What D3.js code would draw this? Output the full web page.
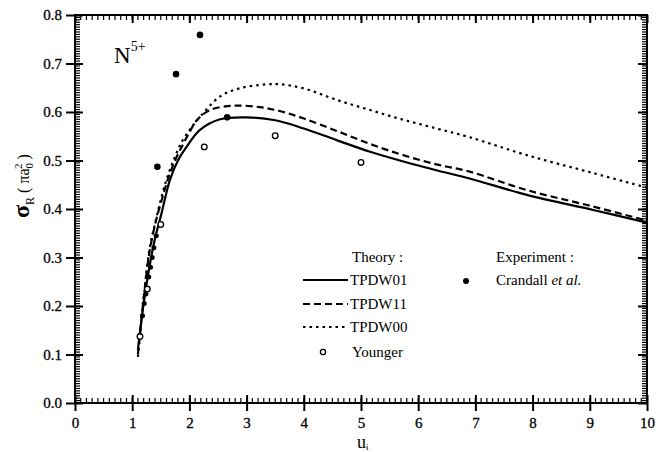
<!DOCTYPE html>
<html>
<head>
<meta charset="utf-8">
<script src="https://cdn.jsdelivr.net/npm/d3@7"></script>
<style>
  html, body { margin: 0; padding: 0; background: #fff; }
  svg { display: block; }
</style>
</head>
<body>
<svg id="chart" width="672" height="452" font-family="'Liberation Serif', 'Times New Roman', Times, serif"></svg>
<script>
// Radiative recombination cross section for N5+ versus impact energy u_i
const SERIF = "'Liberation Serif', 'Times New Roman', Times, serif";
const xTicks = [0, 1, 2, 3, 4, 5, 6, 7, 8, 9, 10];
const yTicks = [0.0, 0.1, 0.2, 0.3, 0.4, 0.5, 0.6, 0.7, 0.8];

// Theory curves: [u, sigma]
const tpdw01 = [
  [1.10, 0.11], [1.15, 0.16], [1.20, 0.205], [1.30, 0.28], [1.40, 0.34],
  [1.50, 0.385], [1.66, 0.46], [1.80, 0.50], [1.95, 0.528], [2.185, 0.563],
  [2.535, 0.585], [3.00, 0.589], [3.50, 0.583], [4.00, 0.566], [4.575, 0.542],
  [5.16, 0.518], [5.74, 0.498], [6.32, 0.480], [6.90, 0.463], [7.90, 0.429],
  [9.06, 0.398], [10.0, 0.372]
];
const tpdw11 = [
  [1.10, 0.10], [1.20, 0.215], [1.30, 0.31], [1.42, 0.378], [1.52, 0.42],
  [1.62, 0.46], [1.75, 0.50], [1.865, 0.528], [2.00, 0.558], [2.13, 0.583],
  [2.36, 0.604], [2.77, 0.613], [3.23, 0.610], [3.58, 0.602], [3.99, 0.587],
  [4.575, 0.561], [5.16, 0.534], [5.74, 0.511], [6.32, 0.492], [6.90, 0.477],
  [7.90, 0.439], [9.06, 0.405], [10.0, 0.376]
];
const tpdw00 = [
  [1.10, 0.095], [1.20, 0.215], [1.30, 0.315], [1.42, 0.38], [1.52, 0.428],
  [1.62, 0.468], [1.75, 0.508], [1.865, 0.538], [2.00, 0.562], [2.10, 0.578],
  [2.215, 0.594], [2.535, 0.632], [2.885, 0.649], [3.35, 0.657], [3.60, 0.657],
  [3.99, 0.649], [4.575, 0.625], [5.16, 0.604], [5.74, 0.584], [6.32, 0.566],
  [6.90, 0.548], [7.90, 0.511], [9.06, 0.474], [10.0, 0.444]
];

// Younger results (open circles)
const younger = [
  [1.136, 0.137], [1.265, 0.235], [1.50, 0.368], [2.26, 0.528], [3.50, 0.551], [5.00, 0.496]
];
// Crandall et al. measurements (filled circles)
const crandall = [
  [1.18, 0.18], [1.21, 0.205], [1.24, 0.225], [1.29, 0.26], [1.32, 0.28],
  [1.35, 0.30], [1.38, 0.32], [1.42, 0.345], [1.44, 0.487], [1.766, 0.678],
  [2.185, 0.759], [2.66, 0.589]
];

const svg = d3.select("#chart");
const x = d3.scaleLinear().domain([0, 10]).range([75, 647]);
const y = d3.scaleLinear().domain([0, 0.8]).range([403, 15]);

const g = svg.append("g");

// Axes: major ticks cross the frame, minor ticks point inwards
const xMinor = d3.range(0, 10.0001, 0.1);
const yMinor = d3.range(0, 0.8001, 0.005);

g.append("g").attr("transform", `translate(0,${y(0)})`)
  .call(d3.axisBottom(x).tickValues(xTicks).tickSize(8).tickFormat(d3.format("d")).tickPadding(6))
  .attr("font-family", SERIF)
  .call(a => a.select(".domain").remove())
  .call(a => a.selectAll(".tick line").attr("y1", -8).attr("stroke-width", 2))
  .call(a => a.selectAll("text").attr("font-size", 15).attr("font-family", SERIF)
    .attr("stroke", "#000").attr("stroke-width", 0.3));

g.append("g").attr("transform", `translate(${x(0)},0)`)
  .call(d3.axisLeft(y).tickValues(yTicks).tickSize(9).tickFormat(d3.format(".1f")).tickPadding(4))
  .attr("font-family", SERIF)
  .call(a => a.select(".domain").remove())
  .call(a => a.selectAll(".tick line").attr("x1", 8).attr("stroke-width", 2))
  .call(a => a.selectAll("text").attr("font-size", 15).attr("font-family", SERIF)
    .attr("stroke", "#000").attr("stroke-width", 0.3));

// top and right mirrored ticks
g.append("g").attr("transform", `translate(0,${y(0.8)})`)
  .call(d3.axisTop(x).tickValues(xTicks).tickSize(-8).tickFormat(""))
  .call(a => a.select(".domain").remove())
  .call(a => a.selectAll(".tick line").attr("stroke-width", 2));
g.append("g").attr("transform", `translate(${x(10)},0)`)
  .call(d3.axisRight(y).tickValues(yTicks).tickSize(-9).tickFormat(""))
  .call(a => a.select(".domain").remove())
  .call(a => a.selectAll(".tick line").attr("stroke-width", 2));

const minor = g.append("g").attr("stroke", "#000").attr("stroke-width", 1.2);
xMinor.forEach(v => {
  minor.append("line").attr("x1", x(v)).attr("x2", x(v)).attr("y1", y(0)).attr("y2", y(0) - 5);
  minor.append("line").attr("x1", x(v)).attr("x2", x(v)).attr("y1", y(0.8)).attr("y2", y(0.8) + 5);
});
yMinor.forEach(v => {
  minor.append("line").attr("y1", y(v)).attr("y2", y(v)).attr("x1", x(0)).attr("x2", x(0) + 5);
  minor.append("line").attr("y1", y(v)).attr("y2", y(v)).attr("x1", x(10)).attr("x2", x(10) - 5);
});

// frame
g.append("rect")
  .attr("x", x(0)).attr("y", y(0.8))
  .attr("width", x(10) - x(0)).attr("height", y(0) - y(0.8))
  .attr("fill", "none").attr("stroke", "#000").attr("stroke-width", 2);

// curves
const line = d3.line().x(d => x(d[0])).y(d => y(d[1])).curve(d3.curveCatmullRom.alpha(0.5));
const curves = [
  { data: tpdw00, dash: "2.5,4" },
  { data: tpdw11, dash: "7,4" },
  { data: tpdw01, dash: null }
];
curves.forEach(c => {
  g.append("path").attr("d", line(c.data))
    .attr("fill", "none").attr("stroke", "#000").attr("stroke-width", 2.2)
    .attr("stroke-dasharray", c.dash);
});

// data points
g.selectAll(".crandall").data(crandall).join("circle")
  .attr("cx", d => x(d[0])).attr("cy", d => y(d[1]))
  .attr("r", d => d[1] < 0.36 ? 2.5 : 3.3).attr("fill", "#000");
g.selectAll(".younger").data(younger).join("circle")
  .attr("cx", d => x(d[0])).attr("cy", d => y(d[1]))
  .attr("r", 2.8).attr("fill", "#fff").attr("stroke", "#000").attr("stroke-width", 1.3);

// ion label
const ion = g.append("text").attr("x", 114).attr("y", 63).attr("font-size", 23).attr("font-family", SERIF);
ion.append("tspan").text("N");
ion.append("tspan").attr("font-size", 14).attr("dy", -12).text("5+");

// axis titles
const xl = g.append("text").attr("x", 357).attr("y", 448).attr("font-size", 18).attr("font-family", SERIF);
xl.append("tspan").text("u");
xl.append("tspan").attr("font-size", 9).attr("dy", 2).text("i");

const yl = g.append("text").attr("transform", "translate(29,186) rotate(-90)")
  .attr("text-anchor", "middle").attr("font-family", SERIF);
yl.append("tspan").attr("font-size", 24).attr("font-weight", "bold").text("σ");
yl.append("tspan").attr("font-size", 12).attr("dy", 5).text("R");
yl.append("tspan").attr("font-size", 16).attr("dy", -5).text("  ( πa");
yl.append("tspan").attr("font-size", 11).attr("dy", 4).text("0");
yl.append("tspan").attr("font-size", 11).attr("dx", -6).attr("dy", -11).text("2");
yl.append("tspan").attr("font-size", 16).attr("dy", 7).text(" )");

// legend
const leg = g.append("g").attr("font-size", 15).attr("font-family", SERIF);
leg.append("text").attr("x", 352).attr("y", 262).text("Theory :");
const legItems = [
  { label: "TPDW01", dash: null, yy: 285 },
  { label: "TPDW11", dash: "7,4", yy: 309 },
  { label: "TPDW00", dash: "2.5,4", yy: 332 }
];
legItems.forEach(it => {
  leg.append("line").attr("x1", 303).attr("x2", 348).attr("y1", it.yy - 5).attr("y2", it.yy - 5)
    .attr("stroke", "#000").attr("stroke-width", 2).attr("stroke-dasharray", it.dash);
  leg.append("text").attr("x", 350).attr("y", it.yy).text(it.label);
});
leg.append("circle").attr("cx", 323).attr("cy", 352).attr("r", 2.6)
  .attr("fill", "#fff").attr("stroke", "#000").attr("stroke-width", 1.3);
leg.append("text").attr("x", 352).attr("y", 357).text("Younger");

leg.append("text").attr("x", 496).attr("y", 262).text("Experiment :");
leg.append("circle").attr("cx", 466).attr("cy", 281).attr("r", 3).attr("fill", "#000");
const cr = leg.append("text").attr("x", 496).attr("y", 285);
cr.append("tspan").text("Crandall ");
cr.append("tspan").attr("font-style", "italic").text("et al.");
</script>
</body>
</html>
